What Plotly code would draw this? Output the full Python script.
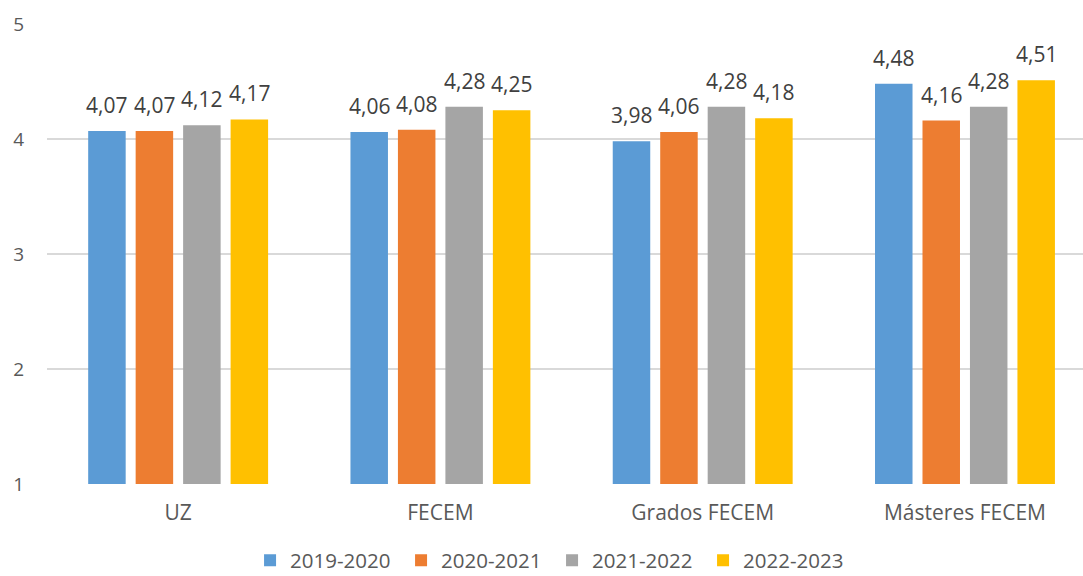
import plotly.graph_objects as go

categories = ["UZ", "FECEM", "Grados FECEM", "Másteres FECEM"]
series_names = ["2019-2020", "2020-2021", "2021-2022", "2022-2023"]
v2019 = [4.07, 4.06, 3.98, 4.48]
v2020 = [4.07, 4.08, 4.06, 4.16]
v2021 = [4.12, 4.28, 4.28, 4.28]
v2022 = [4.17, 4.25, 4.18, 4.51]
colors = ["#5B9BD5", "#ED7D31", "#A5A5A5", "#FFC000"]

W, H = 1083, 576
ML, MR, MT, MB = 47, 0, 23.5, 91.5
XRANGE = [-0.5, 3.45]
BARGAP = 0.276
GROUPGAP = 0.21

fig = go.Figure()
all_vals = [v2019, v2020, v2021, v2022]
for name, vals, col in zip(series_names, all_vals, colors):
    fig.add_trace(go.Bar(
        x=categories, y=vals, name=name,
        marker=dict(color=col, line=dict(width=0)),
    ))

# data labels above bars, offset per series within group
plot_w = W - ML - MR
cat_px = plot_w / (XRANGE[1] - XRANGE[0])
slot_px = cat_px * (1 - BARGAP) / len(series_names)
for i, vals in enumerate(all_vals):
    for c, v in zip(categories, vals):
        fig.add_annotation(
            x=c, y=v, text=f"{v:.2f}".replace(".", ","), showarrow=False,
            xref="x", yref="y", yanchor="bottom", xanchor="center",
            xshift=(i - 1.5) * slot_px, yshift=10,
            font=dict(size=21, color="#404040"),
        )

fig.update_layout(
    width=W, height=H,
    paper_bgcolor="white", plot_bgcolor="white",
    separators=",.",
    font=dict(family="Open Sans, Liberation Sans, sans-serif", color="#595959", size=18),
    margin=dict(l=ML, r=MR, t=MT, b=MB, autoexpand=False),
    barmode="group", bargap=BARGAP, bargroupgap=GROUPGAP,
    showlegend=True,
    legend=dict(orientation="h", x=0.196, xanchor="left", y=-0.166, yanchor="middle",
                font=dict(size=20.5, color="#595959"), traceorder="normal",
                entrywidth=106, entrywidthmode="pixels", borderwidth=0),
    xaxis=dict(range=XRANGE, showgrid=False, showline=False, ticks="",
               tickfont=dict(size=21), ticklabelstandoff=14, automargin=False),
    yaxis=dict(range=[1, 5], dtick=1, tick0=1, showgrid=True, gridcolor="#D9D9D9",
               gridwidth=1.5, zeroline=False, showline=False, ticks="",
               tickfont=dict(size=19), ticklabelstandoff=22, automargin=False),
)
fig.write_html("out.html", config={"displayModeBar": False},
               post_script="document.body.style.margin='0px';document.body.style.overflow='hidden';")
